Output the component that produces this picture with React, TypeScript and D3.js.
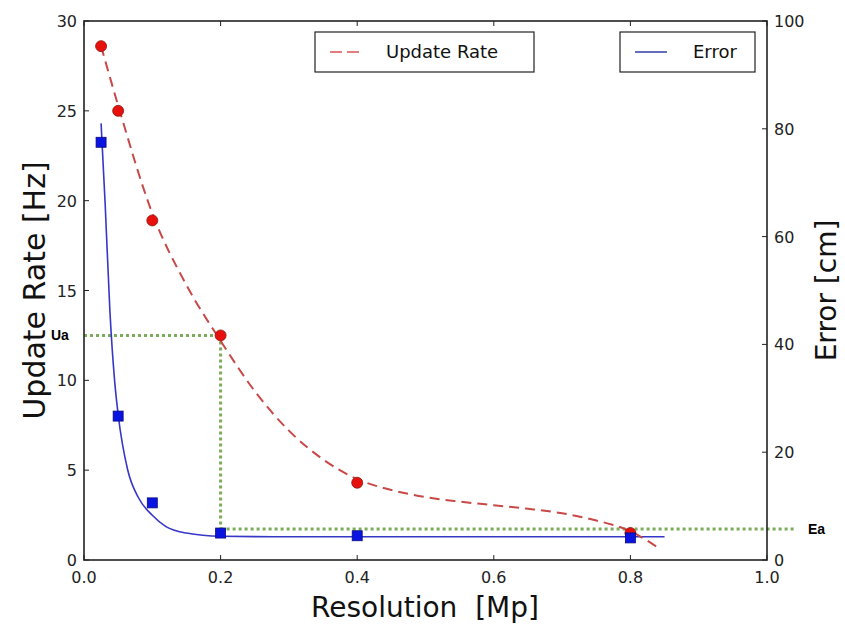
import React from "react";
import * as d3 from "d3";

const resolution = [0.025, 0.05, 0.1, 0.2, 0.4, 0.8];
const updateRate = [28.6, 25.0, 18.9, 12.5, 4.3, 1.5];
const errorCm = [77.5, 26.7, 10.6, 5.0, 4.5, 4.1];

// fitted curves
const rateFitX = [0.025, 0.05, 0.1, 0.15, 0.2, 0.25, 0.3, 0.35, 0.4, 0.45, 0.5, 0.55, 0.6, 0.65, 0.7, 0.75, 0.8, 0.84];
const rateFitY = [28.6, 25.3, 19.3, 15.3, 12.2, 9.4, 7.2, 5.6, 4.5, 3.9, 3.5, 3.25, 3.05, 2.85, 2.6, 2.2, 1.6, 0.7];
const errFitX = [0.025, 0.031, 0.038, 0.045, 0.05, 0.064, 0.08, 0.1, 0.12, 0.15, 0.2, 0.3, 0.5, 0.85];
const errFitY = [81, 66, 46, 33, 27, 16.7, 11.5, 8.3, 6.2, 5.0, 4.4, 4.3, 4.3, 4.3];

const xTicks = [0, 0.2, 0.4, 0.6, 0.8, 1.0];
const yLeftTicks = [0, 5, 10, 15, 20, 25, 30];
const yRightTicks = [0, 20, 40, 60, 80, 100];

const uaRate = 12.5;
const uaRes = 0.2;
const eaError = 5.75;

export default function App() {
  const left = 84, right = 767, top = 21, bottom = 560;
  const x = d3.scaleLinear().domain([0, 1]).range([left, right]);
  const yL = d3.scaleLinear().domain([0, 30]).range([bottom, top]);
  const yR = d3.scaleLinear().domain([0, 100]).range([bottom, top]);

  const rateLine = d3.line<number>().x((_, i) => x(rateFitX[i])).y((d) => yL(d)).curve(d3.curveMonotoneX);
  const errLine = d3.line<number>().x((_, i) => x(errFitX[i])).y((d) => yR(d)).curve(d3.curveMonotoneX);

  const font = "'DejaVu Sans', sans-serif";
  const tickLen = 5;
  const green = "#7aac5a";

  return (
    <svg width={845} height={629} style={{ position: "absolute", left: 0, top: 0, background: "#fff" }} fontFamily={font}>
      {/* green guides */}
      <g stroke={green} strokeWidth={3} strokeDasharray="3,3" fill="none">
        <line x1={x(0)} x2={x(uaRes)} y1={yL(uaRate)} y2={yL(uaRate)} />
        <line x1={x(uaRes)} x2={x(uaRes)} y1={yL(uaRate)} y2={yR(eaError)} />
        <line x1={x(uaRes)} x2={795} y1={yR(eaError)} y2={yR(eaError)} />
      </g>
      <text x={51} y={yL(uaRate) + 5} fontFamily="'Liberation Sans', Arial, sans-serif" fontWeight="bold" fontSize={14}>Ua</text>
      <text x={808} y={yR(eaError) + 5} fontFamily="'Liberation Sans', Arial, sans-serif" fontWeight="bold" fontSize={14}>Ea</text>

      {/* fit curves */}
      <path d={errLine(errFitY) || ""} fill="none" stroke="#3636c8" strokeWidth={1.6} />
      <path d={rateLine(rateFitY) || ""} fill="none" stroke="#c94848" strokeWidth={2} strokeDasharray="10,6" />

      {/* markers */}
      {resolution.map((r, i) => (
        <circle key={"c" + i} cx={x(r)} cy={yL(updateRate[i])} r={5.5} fill="#e8100c" stroke="#8a1a10" strokeWidth={0.8} />
      ))}
      {resolution.map((r, i) => (
        <rect key={"s" + i} x={x(r) - 5} y={yR(errorCm[i]) - 5} width={10} height={10} fill="#0a14e0" stroke="#0a0a80" strokeWidth={0.8} />
      ))}

      {/* frame */}
      <rect x={left} y={top} width={right - left} height={bottom - top} fill="none" stroke="#222" strokeWidth={1.6} />

      {/* x ticks */}
      {xTicks.map((t) => (
        <g key={"x" + t}>
          <line x1={x(t)} x2={x(t)} y1={bottom} y2={bottom - tickLen} stroke="#222" />
          <line x1={x(t)} x2={x(t)} y1={top} y2={top + tickLen} stroke="#222" />
          <text x={x(t)} y={bottom + 23} textAnchor="middle" fontSize={16} fill="#222">{t.toFixed(1)}</text>
        </g>
      ))}
      {yLeftTicks.map((t) => (
        <g key={"yl" + t}>
          <line x1={left} x2={left + tickLen} y1={yL(t)} y2={yL(t)} stroke="#222" />
          <text x={left - 7} y={yL(t) + 6} textAnchor="end" fontSize={16} fill="#222">{t}</text>
        </g>
      ))}
      {yRightTicks.map((t) => (
        <g key={"yr" + t}>
          <line x1={right} x2={right - tickLen} y1={yR(t)} y2={yR(t)} stroke="#222" />
          <text x={right + 7} y={yR(t) + 6} textAnchor="start" fontSize={16} fill="#222">{t}</text>
        </g>
      ))}

      {/* axis titles */}
      <text x={425} y={617} textAnchor="middle" fontSize={28} fill="#111" style={{ whiteSpace: "pre" }}>{"Resolution  [Mp]"}</text>
      <text transform={`translate(45,${(top + bottom) / 2}) rotate(-90)`} textAnchor="middle" fontSize={30} fill="#111">Update Rate [Hz]</text>
      <text transform={`translate(836,${(top + bottom) / 2}) rotate(-90)`} textAnchor="middle" fontSize={28} fill="#111">Error [cm]</text>

      {/* legends */}
      <rect x={315} y={32} width={219} height={40} fill="#fff" stroke="#222" strokeWidth={1.2} />
      <line x1={330} x2={360} y1={52} y2={52} stroke="#d85555" strokeWidth={1.6} strokeDasharray="12,5" />
      <text x={386} y={58} fontSize={18} fill="#111">Update Rate</text>
      <rect x={620} y={32} width={135} height={40} fill="#fff" stroke="#222" strokeWidth={1.2} />
      <line x1={635} x2={667} y1={52} y2={52} stroke="#3a4aa8" strokeWidth={1.6} />
      <text x={693} y={58} fontSize={18} fill="#111">Error</text>
    </svg>
  );
}
